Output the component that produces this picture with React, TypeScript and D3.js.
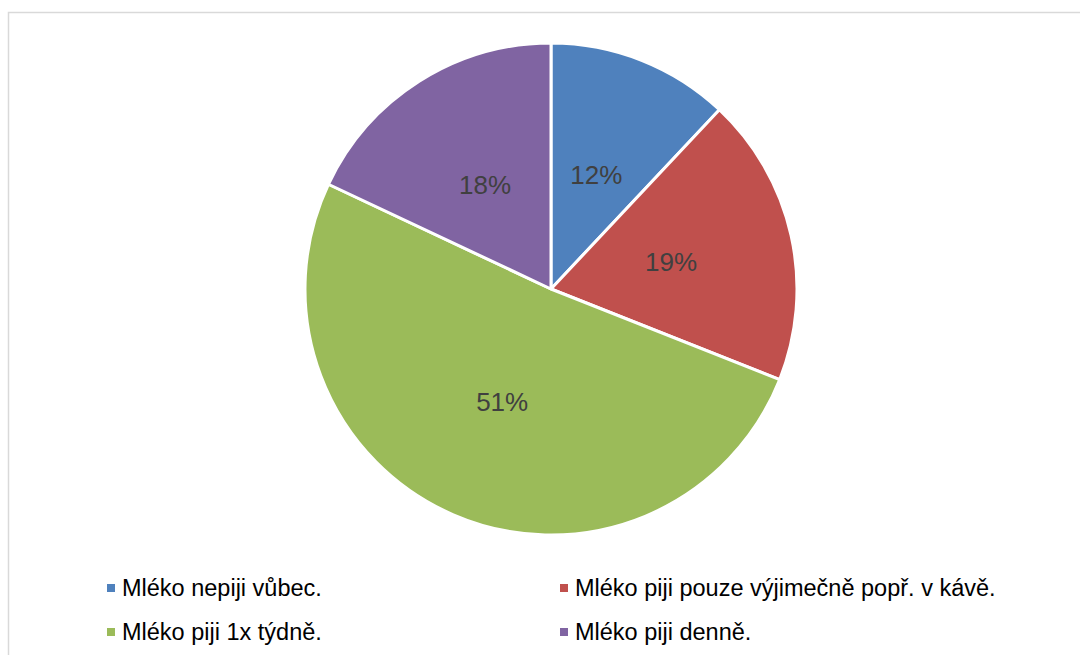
import React from "react";
import * as d3 from "d3";

const categories = [
  "Mléko nepiji vůbec.",
  "Mléko piji pouze výjimečně popř. v kávě.",
  "Mléko piji 1x týdně.",
  "Mléko piji denně.",
];
const values = [12, 19, 51, 18];
const colors = ["#4F81BD", "#C0504D", "#9BBB59", "#8064A2"];

const W = 1080;
const H = 655;
const cx = 551;
const cy = 289;
const R = 246;

export default function App() {
  const pie = d3.pie<number>().sort(null).value((d) => d)(values);
  const arc = d3.arc<d3.PieArcDatum<number>>().innerRadius(0).outerRadius(R);
  const labelArc = d3.arc<d3.PieArcDatum<number>>().innerRadius(R * 0.5).outerRadius(R * 0.5);
  const total = d3.sum(values);

  const legendPos = [
    { x: 107, y: 588 },
    { x: 560, y: 588 },
    { x: 107, y: 632 },
    { x: 560, y: 632 },
  ];

  return (
    <svg
      width={W}
      height={H}
      style={{ position: "absolute", left: 0, top: 0, display: "block" }}
      fontFamily="'Liberation Sans', Arial, sans-serif"
    >
      <rect x={0} y={0} width={W} height={H} fill="#fff" />
      <rect x={8.5} y={12.5} width={W + 10} height={H + 20} fill="none" stroke="#d9d9d9" strokeWidth={1.5} />
      <g transform={`translate(${cx},${cy})`}>
        {pie.map((p, i) => (
          <path key={i} d={arc(p) || ""} fill={colors[i]} stroke="#fff" strokeWidth={3} strokeLinejoin="round" />
        ))}
        {pie.map((p, i) => {
          const [x, y] = labelArc.centroid(p);
          return (
            <text
              key={"l" + i}
              x={x}
              y={y}
              textAnchor="middle"
              dominantBaseline="central"
              fontSize={26}
              fill="#404040"
            >
              {Math.round((values[i] / total) * 100)}%
            </text>
          );
        })}
      </g>
      {categories.map((c, i) => (
        <g key={"lg" + i} transform={`translate(${legendPos[i].x},${legendPos[i].y})`}>
          <rect x={0} y={-4} width={8} height={8} fill={colors[i]} />
          <text x={15} y={0} dominantBaseline="central" fontSize={23.5} fill="#000">
            {c}
          </text>
        </g>
      ))}
    </svg>
  );
}
